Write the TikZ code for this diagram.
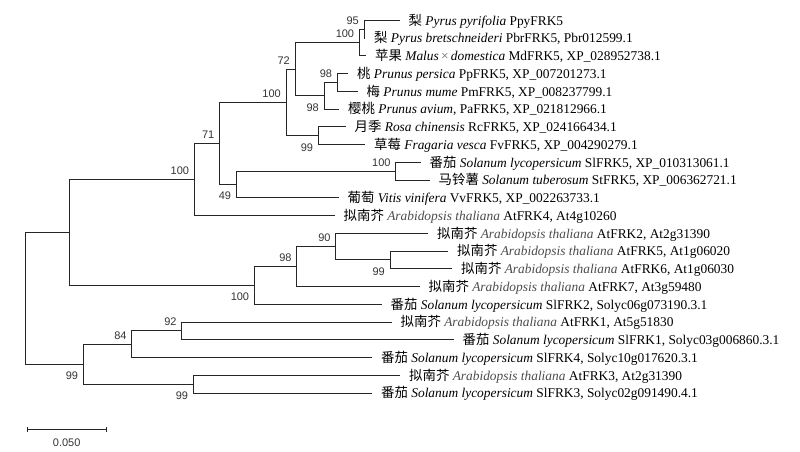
\documentclass[tikz,border=0pt]{standalone}
\usepackage{fontspec}
\setmainfont{Liberation Serif}
\newfontfamily\cjk{Noto Sans CJK SC}
\newfontfamily\bsfont{Liberation Sans}
\usetikzlibrary{arrows.meta}
\newcommand\taxon[3]{{\cjk #1} \textit{#2} #3}
\newcommand\taxong[3]{{\cjk #1} \textcolor{black!70}{\textit{#2}} #3}
\tikzset{
  branch/.style={draw=black!85, line width=0.9pt},
  tip/.style={anchor=base west, inner sep=0pt, font=\fontsize{13.4}{15}\selectfont},
  boot/.style={inner sep=0pt, font=\bsfont\fontsize{11}{13}\selectfont, text=black!80}
}
\begin{document}
\begin{tikzpicture}[x=1pt, y=-1pt]
\useasboundingbox (0,0) rectangle (800,451);
\foreach \i/\x in {1/399.5, 2/365, 3/366, 4/348, 5/357.5, 6/339, 7/345.5, 8/365, 9/420.5, 10/429.5, 11/338.5, 12/334.5, 13/428, 14/448, 15/452, 16/419.5, 17/381.5, 18/391.5, 19/453.5, 20/372, 21/400, 22/372}
  \coordinate (\i) at (\x, {20.2+(\i-1)*17.75});
\coordinate (23) at (364, 29.1);
\coordinate (24) at (359.3, 42.4);
\coordinate (25) at (337.3, 82.3);
\coordinate (26) at (324, 95.6);
\coordinate (27) at (295, 69);
\coordinate (28) at (318.3, 135.6);
\coordinate (29) at (286, 102.3);
\coordinate (30) at (395.7, 171.1);
\coordinate (31) at (236.3, 184.4);
\coordinate (32) at (219.5, 143.35);
\coordinate (33) at (194.3, 179.4);
\coordinate (34) at (390, 259.8);
\coordinate (35) at (335.7, 246.5);
\coordinate (36) at (296.7, 266.5);
\coordinate (37) at (254.3, 285.35);
\coordinate (38) at (69.3, 232.4);
\coordinate (39) at (181.7, 330.8);
\coordinate (40) at (131.7, 344.1);
\coordinate (41) at (193.3, 384.1);
\coordinate (42) at (83.3, 364.1);
\coordinate (43) at (25.5, 298.25);
\foreach \p/\c in {23/1, 23/2, 24/23, 24/3, 25/4, 25/5, 26/25, 26/6, 27/24, 27/26, 28/7, 28/8, 29/27, 29/28, 30/9, 30/10, 31/30, 31/11, 32/29, 32/31, 33/32, 33/12, 34/14, 34/15, 35/13, 35/34, 36/35, 36/16, 37/36, 37/17, 38/33, 38/37, 39/18, 39/19, 40/39, 40/20, 41/21, 41/22, 42/40, 42/41, 43/38, 43/42}
  \draw[branch] (\p) |- (\c);
\foreach \c/\bs/\dy in {23/95/5, 24/100/5, 25/98/5, 26/98/-15.5, 27/72/5, 28/99/-15.5, 29/100/5, 30/100/5, 31/49/-15.5, 32/71/5, 33/100/5, 34/99/-15.5, 35/90/5, 36/98/5, 37/100/-15.5, 39/92/5, 40/84/5, 41/99/-15.5, 42/99/-15.5}
  \node[boot, anchor=base east] (b\c) at ([xshift=-5pt, yshift=\dy pt]\c) {\bs};
\node[tip] (l1) at ([xshift=9pt, yshift=-5pt]1) {\taxon{梨}{Pyrus pyrifolia}{PpyFRK5}};
\node[tip] (l2) at ([xshift=9pt, yshift=-5pt]2) {\taxon{梨}{Pyrus bretschneideri}{PbrFRK5, Pbr012599.1}};
\node[tip] (l3) at ([xshift=9pt, yshift=-5pt]3) {\taxon{苹果}{Malus\,{\upshape\textcolor{black!60}{×}}\,domestica}{MdFRK5, XP\_028952738.1}};
\node[tip] (l4) at ([xshift=9pt, yshift=-5pt]4) {\taxon{桃}{Prunus persica}{PpFRK5, XP\_007201273.1}};
\node[tip] (l5) at ([xshift=9pt, yshift=-5pt]5) {\taxon{梅}{Prunus mume}{PmFRK5, XP\_008237799.1}};
\node[tip] (l6) at ([xshift=9pt, yshift=-5pt]6) {\taxon{樱桃}{Prunus avium,}{PaFRK5, XP\_021812966.1}};
\node[tip] (l7) at ([xshift=9pt, yshift=-5pt]7) {\taxon{月季}{Rosa chinensis}{RcFRK5, XP\_024166434.1}};
\node[tip] (l8) at ([xshift=9pt, yshift=-5pt]8) {\taxon{草莓}{Fragaria vesca}{FvFRK5, XP\_004290279.1}};
\node[tip] (l9) at ([xshift=9pt, yshift=-5pt]9) {\taxon{番茄}{Solanum lycopersicum}{SlFRK5, XP\_010313061.1}};
\node[tip] (l10) at ([xshift=9pt, yshift=-5pt]10) {\taxon{马铃薯}{Solanum tuberosum}{StFRK5, XP\_006362721.1}};
\node[tip] (l11) at ([xshift=9pt, yshift=-5pt]11) {\taxon{葡萄}{Vitis vinifera}{VvFRK5, XP\_002263733.1}};
\node[tip] (l12) at ([xshift=9pt, yshift=-5pt]12) {\taxong{拟南芥}{Arabidopsis thaliana}{AtFRK4, At4g10260}};
\node[tip] (l13) at ([xshift=9pt, yshift=-5pt]13) {\taxong{拟南芥}{Arabidopsis thaliana}{AtFRK2, At2g31390}};
\node[tip] (l14) at ([xshift=9pt, yshift=-5pt]14) {\taxong{拟南芥}{Arabidopsis thaliana}{AtFRK5, At1g06020}};
\node[tip] (l15) at ([xshift=9pt, yshift=-5pt]15) {\taxong{拟南芥}{Arabidopsis thaliana}{AtFRK6, At1g06030}};
\node[tip] (l16) at ([xshift=9pt, yshift=-5pt]16) {\taxong{拟南芥}{Arabidopsis thaliana}{AtFRK7, At3g59480}};
\node[tip] (l17) at ([xshift=9pt, yshift=-5pt]17) {\taxon{番茄}{Solanum lycopersicum}{SlFRK2, Solyc06g073190.3.1}};
\node[tip] (l18) at ([xshift=9pt, yshift=-5pt]18) {\taxong{拟南芥}{Arabidopsis thaliana}{AtFRK1, At5g51830}};
\node[tip] (l19) at ([xshift=9pt, yshift=-5pt]19) {\taxon{番茄}{Solanum lycopersicum}{SlFRK1, Solyc03g006860.3.1}};
\node[tip] (l20) at ([xshift=9pt, yshift=-5pt]20) {\taxon{番茄}{Solanum lycopersicum}{SlFRK4, Solyc10g017620.3.1}};
\node[tip] (l21) at ([xshift=9pt, yshift=-5pt]21) {\taxong{拟南芥}{Arabidopsis thaliana}{AtFRK3, At2g31390}};
\node[tip] (l22) at ([xshift=9pt, yshift=-5pt]22) {\taxon{番茄}{Solanum lycopersicum}{SlFRK3, Solyc02g091490.4.1}};
\coordinate (s1) at (27.3, 429.3);
\coordinate (s2) at (106.7, 429.3);
\draw[branch, line width=0.8pt, {Bar[width=5pt]}-{Bar[width=5pt]}] (s1) -- (s2);
\node[boot] (sl) at (66.7, 442.7) {0.050};
\end{tikzpicture}
\end{document}
